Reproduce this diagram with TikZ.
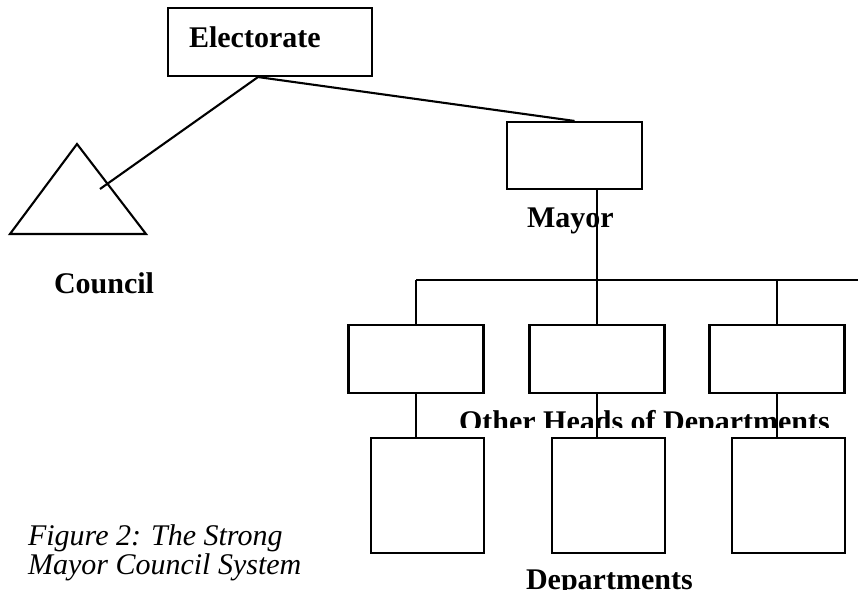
\documentclass[tikz,border=0pt]{standalone}
\usepackage{fontspec}
\setmainfont{Liberation Serif}
\begin{document}
\begin{tikzpicture}[x=1bp,y=-1bp, line width=2.1bp,
  lbl/.style={inner sep=0, anchor=base west, font=\fontsize{30bp}{36bp}\selectfont\bfseries},
  caption/.style={inner sep=0, anchor=base west, font=\fontsize{30bp}{36bp}\selectfont\itshape},
  box/.style={draw, inner sep=0, fill=white},
  headbox/.style={box, minimum width=135bp, minimum height=68bp},
  deptbox/.style={box, minimum width=113bp, minimum height=115bp}]
\useasboundingbox (0,0) rectangle (858,590);

% Electorate
\node[box, minimum width=204bp, minimum height=68bp] (elect) at (270,42) {};
\node[lbl] (electlbl) at (188,48) {Electorate};

% Council triangle
\coordinate (tA) at (77,144);
\coordinate (tB) at (10,234);
\coordinate (tC) at (146,234);
\coordinate (tin) at (100,189);
\draw[line join=miter] (tA) -- (tB) -- (tC) -- cycle;
\begin{scope}
  \clip (0,250) rectangle (300,294);
  \node[lbl] (councillbl) at (53,293) {Council};
\end{scope}

% Mayor
\node[box, minimum width=135bp, minimum height=67bp] (mayor) at (574.5,155.5) {};
\begin{scope}
  \clip (480,190) rectangle (700,234);
  \node[lbl] (mayorlbl) at (526,228) {Mayor};
\end{scope}

\draw ([xshift=-12bp]elect.south) -- (tin);
\draw ([xshift=-12bp]elect.south) -- (mayor.north);

% bus
\coordinate (j1) at (416,280);
\coordinate (j2) at (597,280);
\coordinate (j3) at (777,280);
\coordinate (jend) at (858,280);
\draw (j1) -- (jend);
\draw (mayor.south -| j2) -- (j2);

% heads
\node[headbox] (h1) at (416,359) {};
\node[headbox] (h2) at (597,359) {};
\node[headbox] (h3) at (777,359) {};
\draw (j1) -- (h1.north);
\draw (j2) -- (h2.north);
\draw (j3) -- (h3.north);

\begin{scope}
  \clip (400,395) rectangle (858,427);
  \node[lbl] (headslbl) at (458,431) {Other Heads of Departments};
\end{scope}

% departments
\coordinate (d1top) at (416,438);
\coordinate (d2top) at (597,438);
\coordinate (d3top) at (777,438);
\draw (h1.south) -- (d1top);
\draw (h2.south) -- (d2top);
\draw (h3.south) -- (d3top);
\node[deptbox] (d1) at (427.5,495.5) {};
\node[deptbox] (d2) at (608.5,495.5) {};
\node[deptbox] (d3) at (788.5,495.5) {};
\node[lbl] (deptlbl) at (525,589) {Departments};

% caption
\node[caption] (cap1) at (27,545) {Figure 2: The Strong};
\node[caption] (cap2) at (27,574) {Mayor Council System};
\end{tikzpicture}
\end{document}
